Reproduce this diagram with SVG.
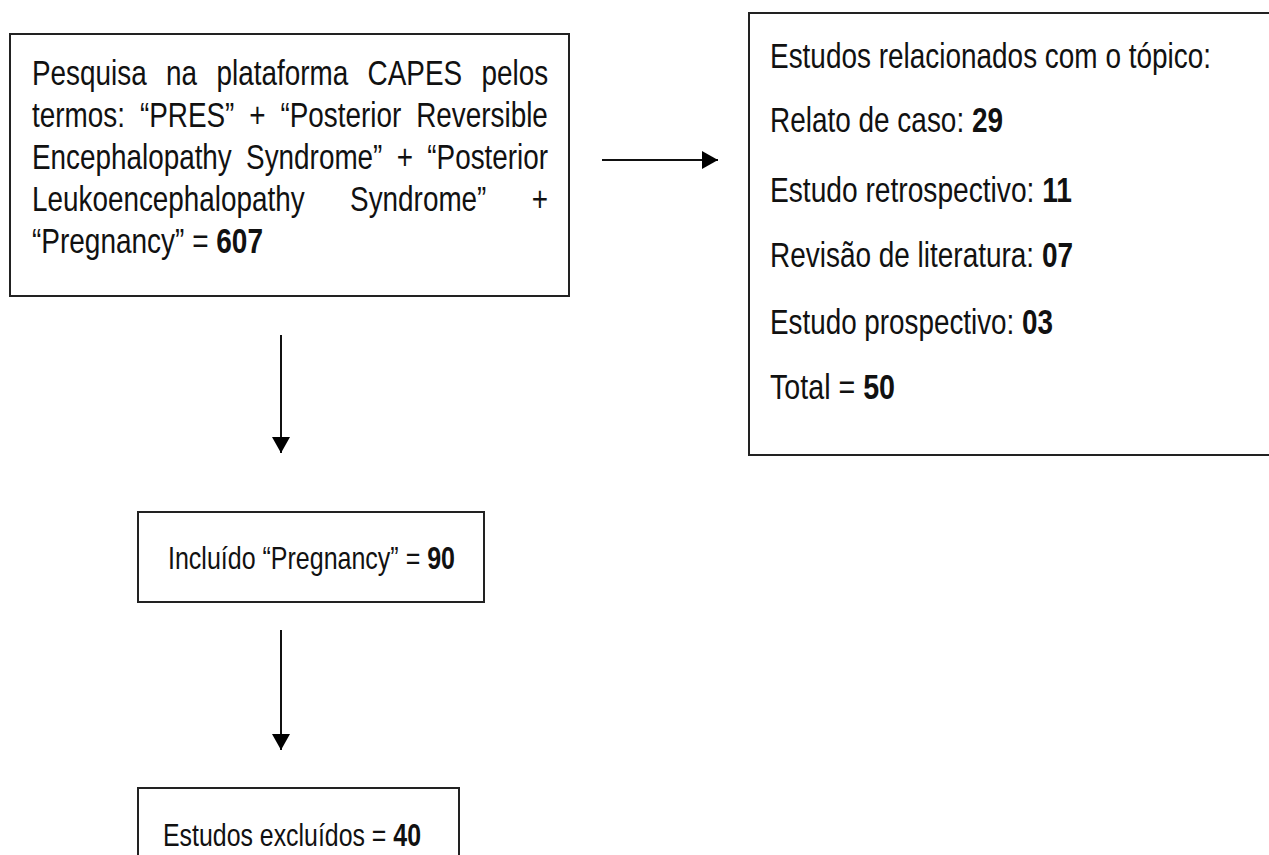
<svg xmlns="http://www.w3.org/2000/svg" width="1269" height="855" viewBox="0 0 1269 855">
<defs>
<style>
.box{fill:#fff;stroke:#222;stroke-width:2}
.t{font-family:"Liberation Sans Narrow","Arial Narrow","Liberation Sans",Arial,sans-serif;fill:#111}
.b{font-weight:bold}
.c{stroke:#111;stroke-width:2;fill:none}
</style>
<marker id="ah" markerUnits="userSpaceOnUse" markerWidth="20" markerHeight="20" refX="16" refY="10" orient="auto">
<path d="M0,1 L16,10 L0,19 Z" fill="#000"/>
</marker>
</defs>
<rect width="1269" height="855" fill="#fff"/>
<g id="search">
<rect class="box" x="10" y="34" width="559" height="262"/>
<g class="t" font-size="35">
<text y="85"><tspan x="32" textLength="114.7" lengthAdjust="spacingAndGlyphs">Pesquisa</tspan><tspan x="166.1" textLength="31" lengthAdjust="spacingAndGlyphs">na</tspan><tspan x="216.5" textLength="131.7" lengthAdjust="spacingAndGlyphs">plataforma</tspan><tspan x="367.6" textLength="94.5" lengthAdjust="spacingAndGlyphs">CAPES</tspan><tspan x="481.5" textLength="66.6" lengthAdjust="spacingAndGlyphs">pelos</tspan></text>
<text y="127"><tspan x="32" textLength="93" lengthAdjust="spacingAndGlyphs">termos:</tspan><tspan x="139.9" textLength="94.5" lengthAdjust="spacingAndGlyphs">“PRES”</tspan><tspan x="249.3" textLength="16.3" lengthAdjust="spacingAndGlyphs">+</tspan><tspan x="280.5" textLength="120.8" lengthAdjust="spacingAndGlyphs">“Posterior</tspan><tspan x="416.2" textLength="131.7" lengthAdjust="spacingAndGlyphs">Reversible</tspan></text>
<text y="169"><tspan x="32" textLength="199.8" lengthAdjust="spacingAndGlyphs">Encephalopathy</tspan><tspan x="246.1" textLength="136.3" lengthAdjust="spacingAndGlyphs">Syndrome”</tspan><tspan x="396.7" textLength="16.3" lengthAdjust="spacingAndGlyphs">+</tspan><tspan x="427.3" textLength="120.8" lengthAdjust="spacingAndGlyphs">“Posterior</tspan></text>
<text y="211"><tspan x="32" textLength="272.7" lengthAdjust="spacingAndGlyphs">Leukoencephalopathy</tspan><tspan x="350.1" textLength="136.3" lengthAdjust="spacingAndGlyphs">Syndrome”</tspan><tspan x="531.7" textLength="16.3" lengthAdjust="spacingAndGlyphs">+</tspan></text>
<text x="32" y="253" textLength="231" lengthAdjust="spacingAndGlyphs">“Pregnancy” = <tspan class="b">607</tspan></text>
</g>
</g>
<g id="topics">
<rect class="box" x="749" y="13" width="540" height="442"/>
<g class="t" font-size="35">
<text x="770" y="68" textLength="441" lengthAdjust="spacingAndGlyphs">Estudos relacionados com o tópico:</text>
<text x="770" y="132" textLength="233" lengthAdjust="spacingAndGlyphs">Relato de caso: <tspan class="b">29</tspan></text>
<text x="770" y="202" textLength="302" lengthAdjust="spacingAndGlyphs">Estudo retrospectivo: <tspan class="b">11</tspan></text>
<text x="770" y="267" textLength="303" lengthAdjust="spacingAndGlyphs">Revisão de literatura: <tspan class="b">07</tspan></text>
<text x="770" y="334" textLength="283" lengthAdjust="spacingAndGlyphs">Estudo prospectivo: <tspan class="b">03</tspan></text>
<text x="770" y="399" textLength="125" lengthAdjust="spacingAndGlyphs">Total = <tspan class="b">50</tspan></text>
</g>
</g>
<g id="included">
<rect class="box" x="138" y="512" width="346" height="90"/>
<text class="t" font-size="32" x="168" y="569" textLength="287" lengthAdjust="spacingAndGlyphs">Incluído “Pregnancy” = <tspan class="b">90</tspan></text>
</g>
<g id="excluded">
<rect class="box" x="138" y="788" width="321" height="90"/>
<text class="t" font-size="32" x="163" y="846" textLength="258" lengthAdjust="spacingAndGlyphs">Estudos excluídos = <tspan class="b">40</tspan></text>
</g>
<g id="connectors">
<line class="c" x1="602" y1="160" x2="718" y2="160" marker-end="url(#ah)"/>
<line class="c" x1="281" y1="335" x2="281" y2="453" marker-end="url(#ah)"/>
<line class="c" x1="281" y1="630" x2="281" y2="750" marker-end="url(#ah)"/>
</g>
</svg>
